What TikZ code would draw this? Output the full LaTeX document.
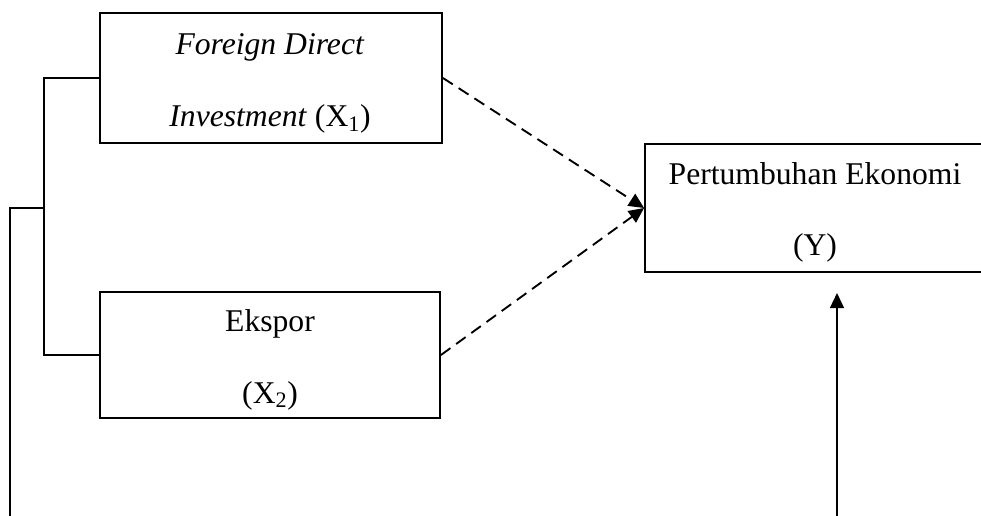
\documentclass[tikz,border=0pt]{standalone}
\usepackage{fontspec}
\setmainfont{Liberation Serif}
\usepackage{tikz}
\usetikzlibrary{arrows.meta}

\tikzset{
    varbox/.style={draw, line width=1.6pt, inner sep=0pt},
    boxtext/.style={anchor=base, inner sep=0pt, font=\fontsize{27}{32}\selectfont},
    link/.style={line width=1.6pt},
    tip/.style={-{Triangle[length=13pt, width=12pt]}},
    dashlink/.style={line width=1.6pt, dash pattern=on 10pt off 6pt, tip}
}

\begin{document}
\begin{tikzpicture}[x=0.03cm, y=-0.03cm]
        \useasboundingbox (0,0) rectangle (981,516);

        \node[varbox, minimum width=342*0.03cm, minimum height=130*0.03cm] (fdi) at (271, 78) {};
        \node[boxtext] (fdi-1) at (270, 55) {\textit{Foreign Direct}};
        \node[boxtext] (fdi-2) at (270, 127) {\textit{Investment} (X\textsubscript{1})};

        \node[varbox, minimum width=340*0.03cm, minimum height=126*0.03cm] (ekspor) at (270, 355) {};
        \node[boxtext] (ekspor-1) at (270, 332) {Ekspor};
        \node[boxtext] (ekspor-2) at (270, 403) {(X\textsubscript{2})};

        \node[varbox, minimum width=340*0.03cm, minimum height=128*0.03cm] (growth) at (815, 208) {};
        \node[boxtext] (growth-1) at (815, 185) {Pertumbuhan Ekonomi};
        \node[boxtext] (growth-2) at (815, 256) {(Y)};

        \coordinate (join) at (45, 208);
        \coordinate (left) at (10, 208);
        \coordinate (leftend) at (10, 520);
        \coordinate (up) at (837, 520);
        \coordinate (arrowtip) at (837, 293);

        % bracket on the left
        \draw[link] (fdi.west) -- ++(-55,0) |- (ekspor.west);
        \draw[link] (join) -- (left) -- (leftend);

        \draw[dashlink] (fdi.east) -- (growth.west);
        \draw[dashlink] (ekspor.east) -- (growth.west);
        \draw[link, tip] (up) -- (arrowtip);
    \end{tikzpicture}
\end{document}
